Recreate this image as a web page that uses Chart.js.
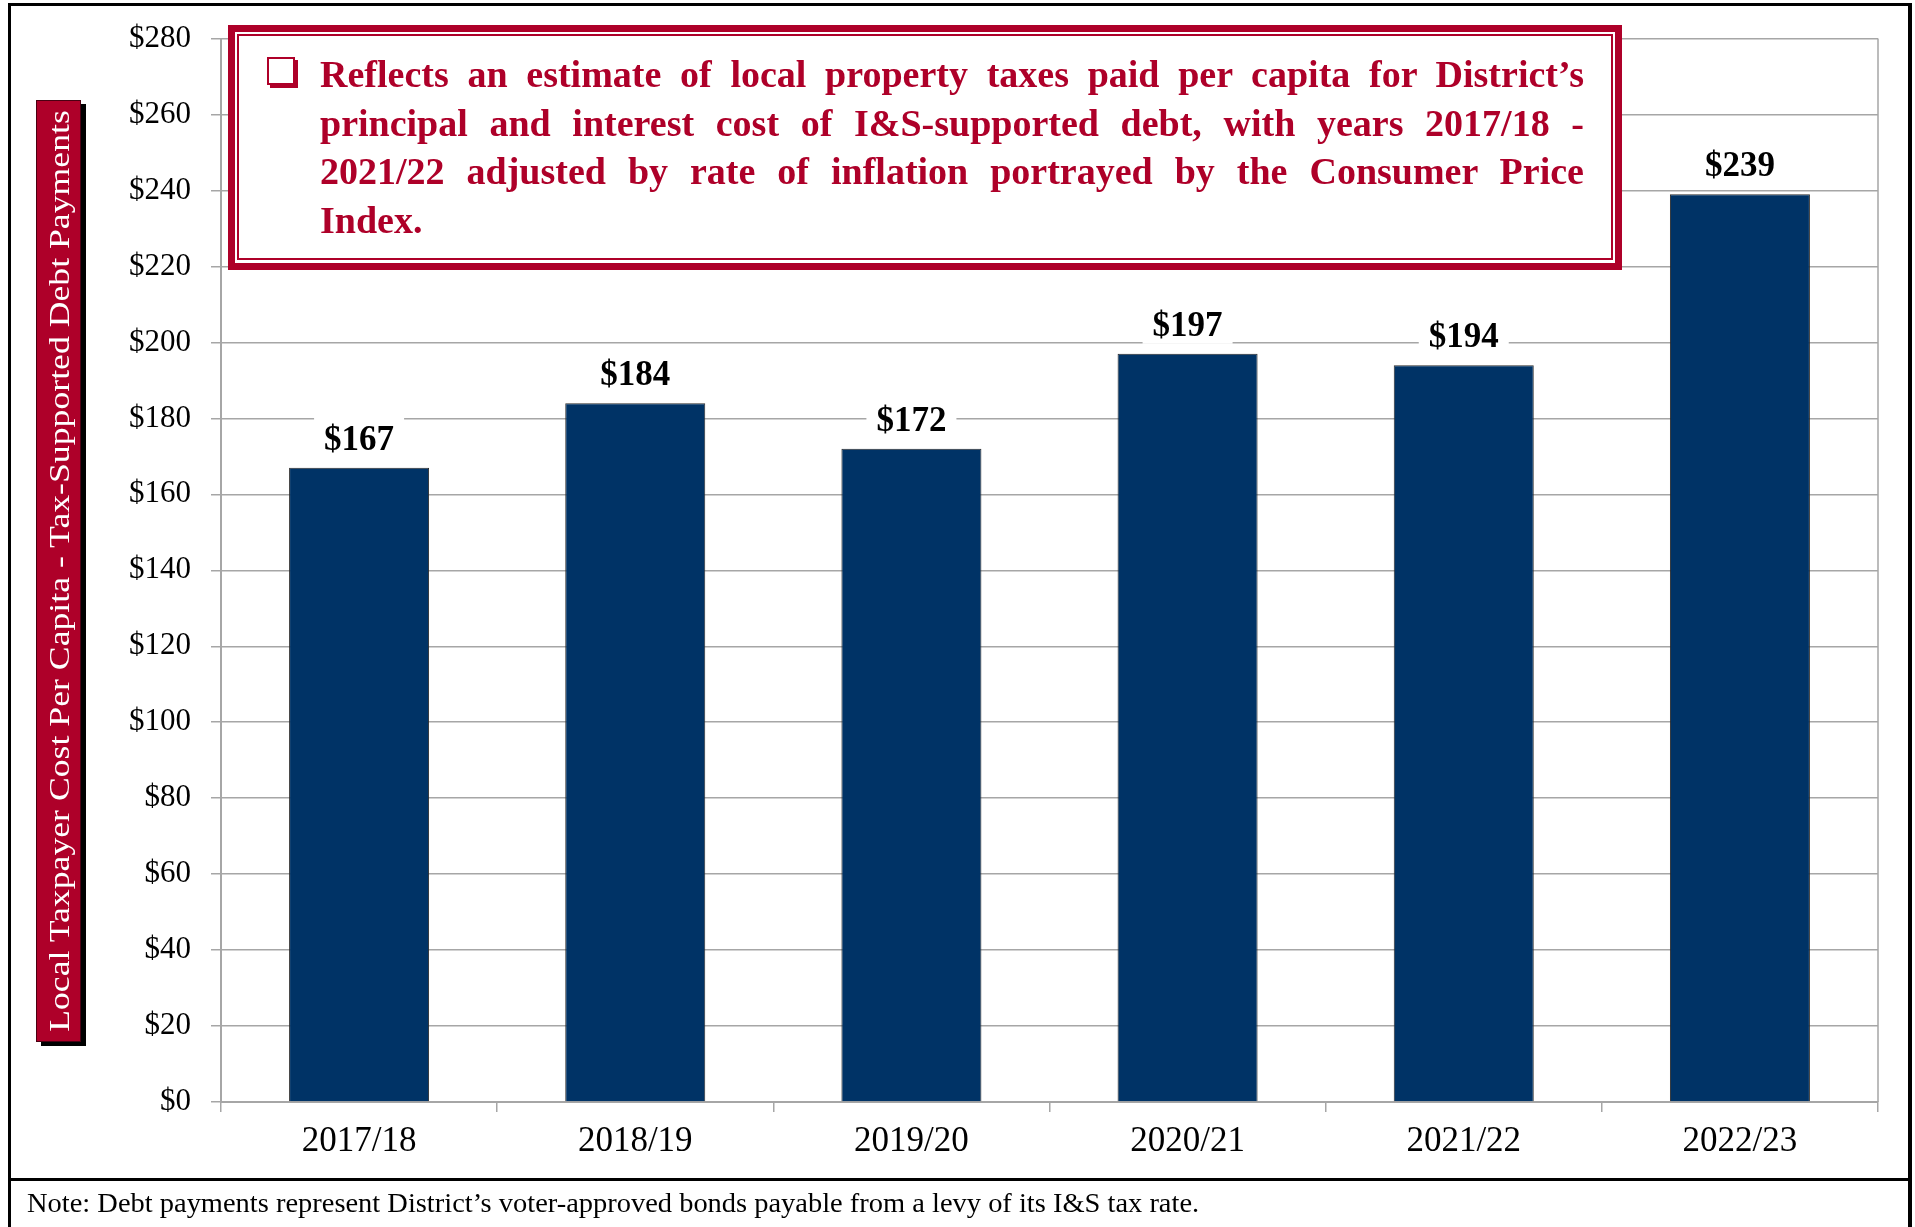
<!DOCTYPE html>
<html>
<head>
<meta charset="utf-8">
<script src="https://cdn.jsdelivr.net/npm/chart.js@4.4.1/dist/chart.umd.min.js"></script>
<style>
  html, body { margin: 0; padding: 0; background: #fff; }
  body { width: 1915px; height: 1227px; position: relative; overflow: hidden; font-family: "Liberation Serif", serif; }
  #chart { position: absolute; left: 0; top: 0; }
  .frame { position: absolute; left: 8px; top: 3px; width: 1904px; height: 1260px; border: 3px solid #000; border-right-width: 4px; box-sizing: border-box; pointer-events: none; }
  .footer-line { position: absolute; left: 8px; top: 1178px; width: 1904px; height: 3px; background: #000; }
  .note { position: absolute; left: 27px; top: 1190px; font-size: 27px; line-height: 27px; white-space: nowrap; color: #000; transform-origin: left center; }
  .y-title-shadow { position: absolute; left: 41px; top: 104px; width: 45px; height: 942px; background: #000; }
  .y-title { position: absolute; left: 36px; top: 100px; width: 45px; height: 942px; background: #ae0029; border: 1px solid #4a0012; box-sizing: border-box; overflow: visible; }
  .y-title span { position: absolute; left: 50%; top: 50%; white-space: nowrap; color: #fff; font-size: 29px; line-height: 29px; }
  .callout { position: absolute; left: 228px; top: 25px; width: 1394px; height: 245px; border: 7px solid #ae0029; box-sizing: border-box; background: #fff; }
  .callout .inner { position: absolute; left: 2px; top: 2px; right: 2px; bottom: 3px; border: 2px solid #ae0029; }
  .bullet { position: absolute; left: 267px; top: 57px; width: 24px; height: 24px; border: 2px solid #ae0029; background: #fff; box-shadow: 3px 3px 0 #ae0029; }
  .callout-text { position: absolute; left: 320px; top: 50px; width: 1264px; color: #ae0029; font-weight: bold; font-size: 38px; line-height: 48.5px; }
  .callout-text div { text-align: justify; text-align-last: justify; }
  .callout-text div.last { text-align-last: left; }
</style>
</head>
<body>
<canvas id="chart" width="1915" height="1227"></canvas>

<div class="frame"></div>
<div class="footer-line"></div>
<div class="note" id="note">Note: Debt payments represent District’s voter-approved bonds payable from a levy of its I&amp;S tax rate.</div>

<div class="y-title-shadow"></div>
<div class="y-title"><span id="yTitle">Local Taxpayer Cost Per Capita - Tax-Supported Debt Payments</span></div>

<div class="callout"><div class="inner"></div></div>
<div class="bullet"></div>
<div class="callout-text">
  <div>Reflects an estimate of local property taxes paid per capita for District’s</div>
  <div>principal and interest cost of I&amp;S-supported debt, with years 2017/18&nbsp;-</div>
  <div>2021/22 adjusted by rate of inflation portrayed by the Consumer Price</div>
  <div class="last">Index.</div>
</div>

<script>
const fiscalYears = ["2017/18", "2018/19", "2019/20", "2020/21", "2021/22", "2022/23"];
const costPerCapita = [167, 184, 172, 197, 194, 239];
const yAxisMax = 280;
const yAxisStep = 20;

const barNavy = "#003366";
const gridGray = "#a6a6a6";

// white-backed value labels above each bar
const barLabels = {
  id: "barLabels",
  afterDatasetsDraw(chart) {
    const ctx = chart.ctx;
    const meta = chart.getDatasetMeta(0);
    ctx.save();
    ctx.font = 'bold 35px "Liberation Serif"';
    ctx.textAlign = "center";
    ctx.textBaseline = "alphabetic";
    meta.data.forEach((bar, i) => {
      const text = "$" + costPerCapita[i];
      const w = ctx.measureText(text).width;
      const baseY = bar.y - 18;
      ctx.fillStyle = "#fff";
      ctx.fillRect(bar.x - w / 2 - 10, baseY - 32, w + 20, 40);
      ctx.fillStyle = "#000";
      ctx.fillText(text, bar.x, baseY);
    });
    ctx.restore();
  },
};

// right edge of the plot area
const plotEdge = {
  id: "plotEdge",
  beforeDatasetsDraw(chart) {
    const { ctx, chartArea } = chart;
    ctx.save();
    ctx.strokeStyle = gridGray;
    ctx.lineWidth = 1.5;
    ctx.beginPath();
    ctx.moveTo(chartArea.right, chartArea.top);
    ctx.lineTo(chartArea.right, chartArea.bottom);
    ctx.stroke();
    ctx.restore();
  },
};

new Chart(document.getElementById("chart"), {
  type: "bar",
  data: {
    labels: fiscalYears,
    datasets: [
      {
        data: costPerCapita,
        backgroundColor: barNavy,
        borderColor: "#2b2b2b",
        borderWidth: 1,
        barPercentage: 0.507,
        categoryPercentage: 1,
      },
    ],
  },
  options: {
    responsive: false,
    animation: false,
    devicePixelRatio: 1,
    layout: { padding: { left: 0, top: 38, right: 37, bottom: 0 } },
    plugins: {
      legend: { display: false },
      tooltip: { enabled: false },
    },
    scales: {
      x: {
        offset: true,
        grid: {
          display: true,
          drawOnChartArea: false,
          drawTicks: true,
          tickLength: 10,
          offset: true,
          color: gridGray,
          lineWidth: 1.5,
        },
        border: { color: gridGray, width: 2 },
        ticks: {
          color: "#000",
          padding: 9,
          font: { family: "Liberation Serif", size: 35 },
        },
        afterFit(scale) {
          scale.height = 125;
        },
      },
      y: {
        min: 0,
        max: yAxisMax,
        ticks: {
          stepSize: yAxisStep,
          color: "#000",
          padding: 20,
          font: { family: "Liberation Serif", size: 31 },
          callback: (value) => "$" + value,
        },
        grid: {
          color: gridGray,
          lineWidth: 1.5,
          drawTicks: true,
          tickLength: 10,
        },
        border: { color: gridGray, width: 2 },
        afterFit(scale) {
          scale.width = 221;
        },
      },
    },
  },
  plugins: [barLabels, plotEdge],
});

// stretch overlay texts to the lengths seen in the picture
function fitText(el, target, extra) {
  const k = target / el.offsetWidth;
  el.style.transform = (extra || "") + " scaleX(" + k + ")";
}
fitText(document.getElementById("yTitle"), 922, "translate(-50%, -50%) rotate(-90deg)");
fitText(document.getElementById("note"), 1172);
</script>
</body>
</html>
